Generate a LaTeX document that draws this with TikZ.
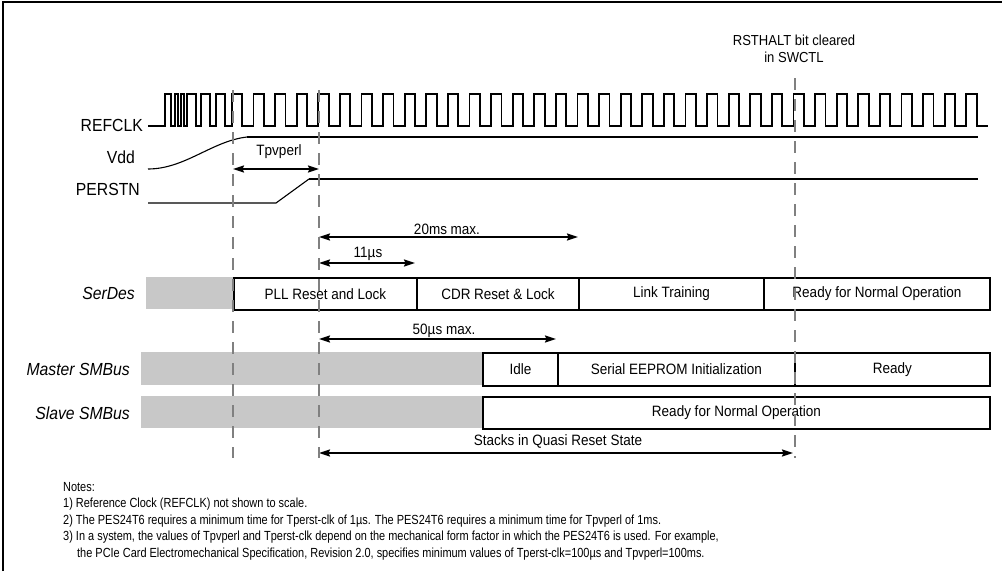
\documentclass[tikz,border=0pt]{standalone}
\usepackage{fontspec}
\setmainfont{Liberation Sans}[FakeStretch=0.9]
\newfontfamily\notefont{Liberation Sans}[FakeStretch=0.83]
\usetikzlibrary{arrows.meta}
\definecolor{graybox}{RGB}{200,200,200}
\definecolor{dashgray}{RGB}{128,128,128}
\begin{document}
\begin{tikzpicture}[x=1pt,y=-1pt,
  every node/.style={inner sep=0pt, font=\fontsize{15}{17}\selectfont},
  sig/.style={line width=1.9pt},
  slim/.style={line width=1.1pt},
  marker/.style={draw=dashgray, line width=2.7pt, dash pattern=on 12pt off 9pt},
  dim/.style={line width=1.6pt, {Stealth[length=11pt,width=7pt,inset=1.5pt]}-{Stealth[length=11pt,width=7pt,inset=1.5pt]}},
  phase/.style={draw, fill=white, line width=1.8pt, minimum height=32pt, anchor=north west, inner sep=0pt},
  idle/.style={fill=graybox, minimum height=32pt, anchor=north west, inner sep=0pt},
  sigl/.style={anchor=east, font=\fontsize{17.5}{19}\selectfont},
  rowl/.style={anchor=east, font=\fontsize{17.5}{19}\selectfont\itshape},
  note/.style={anchor=base west, font=\notefont\fontsize{13.2}{15}\selectfont}]
\useasboundingbox (0,0) rectangle (1002,571);
% frame
\draw[line width=2pt] (3,571) -- (3,2) -- (1002,2);

% RSTHALT label
\node[font=\fontsize{14.5}{16}\selectfont] (rst1) at (794,40) {RSTHALT bit cleared};
\node[font=\fontsize{14.5}{16}\selectfont] (rst2) at (794,57) {in SWCTL};

% signal labels
\node[sigl] (lrefclk) at (143,125) {REFCLK};
\node[sigl] (lvdd) at (135,157) {Vdd};
\node[sigl] (lperstn) at (140,189) {PERSTN};

% REFCLK waveform
\draw[sig] (148,126) -- (165,126) -- (165,94) -- (171,94) -- (171,126) -- (175,126) -- (175,94) -- (178,94) -- (178,126) -- (181,126) -- (181,94) -- (184,94) -- (184,126) -- (187,126) -- (187,94) -- (196,94) -- (196,126) -- (201,126) -- (201,94) -- (210,94) -- (210,126) -- (216,126) -- (216,94) -- (225,94) -- (225,126) -- (231.9,126)
  \foreach \k in {0,...,34} { -- (231.9+21.6*\k,94) -- (242.3+21.6*\k,94) -- (242.3+21.6*\k,126) -- (253.5+21.6*\k,126) };

% Vdd
\draw[slim] (148,169) .. controls (185,169) and (212,141) .. (247,137);
\draw[sig] (247,137) -- (978,137);

% PERSTN
\draw[slim] (148,203) -- (276,203) -- (309,179);
\draw[sig] (309,179) -- (978,179);

% SerDes row
\node[rowl] (lserdes) at (135,293) {SerDes};
\node[idle, minimum width=87pt] (sdgray) at (146,277) {};
\node[phase, minimum width=183pt] (pll) at (233,277) {PLL Reset and Lock};
\node[phase, minimum width=162pt] (cdr) at (416,277) {CDR Reset \& Lock};
\node[phase, minimum width=185pt] (lt) at (578,277) {Link Training};
\node[phase, minimum width=226pt] (sdrdy) at (763,277) {Ready for Normal Operation};

% Master SMBus row
\node[rowl] (lmaster) at (130,369) {Master SMBus};
\node[idle, minimum width=341pt, minimum height=33pt] (mgray) at (141,352) {};
\node[phase, minimum width=75pt, minimum height=33pt] (idle) at (482,352) {Idle};
\node[phase, minimum width=237pt, minimum height=33pt] (eeprom) at (557,352) {Serial EEPROM Initialization};
\node[phase, minimum width=195pt, minimum height=33pt] (mrdy) at (794,352) {Ready};

% Slave SMBus row
\node[rowl] (lslave) at (130,413) {Slave SMBus};
\node[idle, minimum width=341pt] (sgray) at (141,396) {};
\node[phase, minimum width=507pt] (srdy) at (482,396) {Ready for Normal Operation};

% dimension arrows
\coordinate (tpL) at (233,169); \coordinate (tpR) at (319,169);
\draw[dim] (tpL) -- (tpR);
\node (tpv) at (279,152) {Tpvperl};

\coordinate (twL) at (319,237); \coordinate (twR) at (578,237);
\draw[dim] (twL) -- (twR);
\node (tw) at (447,229) {20ms max.};

\coordinate (elL) at (319,263); \coordinate (elR) at (415,263);
\draw[dim] (elL) -- (elR);
\node (el) at (368,254) {11µs};

\coordinate (fiL) at (319,339); \coordinate (fiR) at (556,339);
\draw[dim] (fiL) -- (fiR);
\node (fi) at (444,331) {50µs max.};

\coordinate (stL) at (319,453); \coordinate (stR) at (793,453);
\draw[dim] (stL) -- (stR);
\node (st) at (558,441) {Stacks in Quasi Reset State};

% dashed markers
\coordinate (m1t) at (233,90); \coordinate (m1b) at (233,458);
\coordinate (m2t) at (319,90); \coordinate (m2b) at (319,458);
\coordinate (m3t) at (795,78); \coordinate (m3b) at (795,458);
\draw[marker] (m1t) -- (m1b);
\draw[marker] (m2t) -- (m2b);
\draw[marker] (m3t) -- (m3b);

% notes
\node[note] (n0) at (63,491) {Notes:};
\node[note] (n1) at (63,507.5) {1) Reference Clock (REFCLK) not shown to scale.};
\node[note] (n2) at (63,524) {2) The PES24T6 requires a minimum time for Tperst-clk of 1µs. The PES24T6 requires a minimum time for Tpvperl of 1ms.};
\node[note] (n3) at (63,540.5) {3) In a system, the values of Tpvperl and Tperst-clk depend on the mechanical form factor in which the PES24T6 is used. For example,};
\node[note] (n4) at (77,557) {the PCIe Card Electromechanical Specification, Revision 2.0, specifies minimum values of Tperst-clk=100µs and Tpvperl=100ms.};
\end{tikzpicture}
\end{document}
